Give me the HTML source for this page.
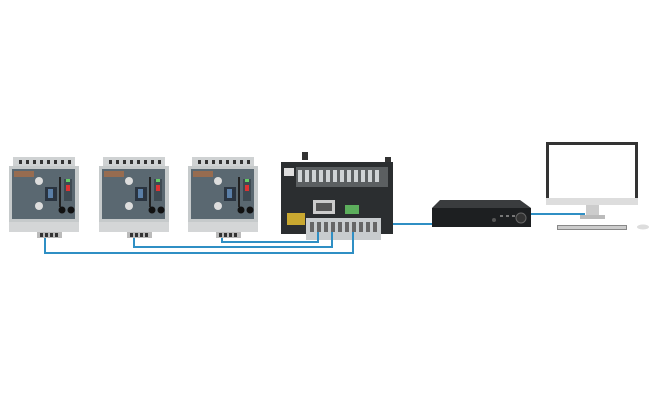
<!DOCTYPE html>
<html><head><meta charset="utf-8"><style>html,body{margin:0;padding:0;background:#fff}svg{display:block}</style></head><body>
<svg width="657" height="400" viewBox="0 0 657 400" xmlns="http://www.w3.org/2000/svg">
<rect width="657" height="400" fill="#fff"/>
<defs>
<g id="relay">
  <rect x="4" y="0" width="62" height="9" fill="#cfd2d3"/>
  <g fill="#333"><rect x="10" y="3" width="3" height="4"/><rect x="17" y="3" width="3" height="4"/><rect x="24" y="3" width="3" height="4"/><rect x="31" y="3" width="3" height="4"/><rect x="38" y="3" width="3" height="4"/><rect x="45" y="3" width="3" height="4"/><rect x="52" y="3" width="3" height="4"/><rect x="59" y="3" width="3" height="4"/></g>
  <rect x="0" y="9" width="70" height="56" fill="#c6cacb"/>
  <rect x="3" y="12" width="63" height="50" fill="#5a6871"/>
  <rect x="5" y="14" width="20" height="6" fill="#c0703a" opacity=".6"/>
  <circle cx="30" cy="24" r="4" fill="#ddd"/><circle cx="30" cy="49" r="4" fill="#ddd"/>
  <rect x="36" y="30" width="12" height="14" fill="#2a3440"/><rect x="39" y="32" width="5" height="9" fill="#5a7fa8"/>
  <rect x="50" y="20" width="2" height="30" fill="#222"/>
  <rect x="55" y="22" width="8" height="22" fill="#3e4a52"/><rect x="57" y="28" width="4" height="6" fill="#d33"/><rect x="57" y="22" width="4" height="3" fill="#6c6"/>
  <circle cx="53" cy="53" r="3.5" fill="#111"/><circle cx="62" cy="53" r="3.5" fill="#111"/>
  <rect x="0" y="65" width="70" height="10" fill="#d4d6d7"/>
  <rect x="28" y="75" width="25" height="6" fill="#bbb"/>
  <g fill="#333"><rect x="31" y="76" width="3" height="4"/><rect x="36" y="76" width="3" height="4"/><rect x="41" y="76" width="3" height="4"/><rect x="46" y="76" width="3" height="4"/></g>
</g>
</defs>
<use href="#relay" x="9" y="157"/>
<use href="#relay" x="99" y="157"/>
<use href="#relay" x="188" y="157"/>
<!-- PLC -->
<rect x="302" y="152" width="6" height="8" fill="#333"/><rect x="385" y="157" width="6" height="8" fill="#333"/>
<rect x="281" y="162" width="112" height="72" fill="#2b2e30"/>
<rect x="296" y="167" width="92" height="20" fill="#5b5f61"/>
<g fill="#cfd3d5"><rect x="298" y="170" width="4" height="12"/><rect x="305" y="170" width="4" height="12"/><rect x="312" y="170" width="4" height="12"/><rect x="319" y="170" width="4" height="12"/><rect x="326" y="170" width="4" height="12"/><rect x="333" y="170" width="4" height="12"/><rect x="340" y="170" width="4" height="12"/><rect x="347" y="170" width="4" height="12"/><rect x="354" y="170" width="4" height="12"/><rect x="361" y="170" width="4" height="12"/><rect x="368" y="170" width="4" height="12"/><rect x="375" y="170" width="4" height="12"/></g>
<rect x="284" y="168" width="10" height="8" fill="#ddd"/>
<rect x="313" y="200" width="22" height="14" fill="#ccc"/><rect x="316" y="203" width="16" height="8" fill="#555"/>
<rect x="345" y="205" width="14" height="9" fill="#5cae5c"/>
<rect x="287" y="213" width="18" height="12" fill="#c9a830"/>
<rect x="306" y="218" width="75" height="22" fill="#c8ccce"/>
<g fill="#666"><rect x="310" y="222" width="4" height="10"/><rect x="317" y="222" width="4" height="10"/><rect x="324" y="222" width="4" height="10"/><rect x="331" y="222" width="4" height="10"/><rect x="338" y="222" width="4" height="10"/><rect x="345" y="222" width="4" height="10"/><rect x="352" y="222" width="4" height="10"/><rect x="359" y="222" width="4" height="10"/><rect x="366" y="222" width="4" height="10"/><rect x="373" y="222" width="4" height="10"/></g>
<!-- wires -->
<g fill="none" stroke="#2f8fc4" stroke-width="2">
<polyline points="45,238 45,253 353,253 353,232"/>
<polyline points="134,238 134,247 332,247 332,232"/>
<polyline points="222,238 222,242 318,242 318,232"/>
<line x1="393" y1="224" x2="433" y2="224"/>
<line x1="528" y1="214" x2="585" y2="214"/>
</g>
<!-- DVR -->
<polygon points="440,200 520,200 531,208 432,208" fill="#3a3c3e"/>
<rect x="432" y="208" width="99" height="19" fill="#1d1f21"/>
<circle cx="494" cy="220" r="2" fill="#555"/>
<g fill="#777"><rect x="500" y="215" width="3" height="2"/><rect x="506" y="215" width="3" height="2"/><rect x="512" y="215" width="3" height="2"/></g>
<circle cx="521" cy="218" r="5" fill="#333" stroke="#666"/>
<!-- monitor -->
<rect x="546" y="142" width="92" height="62" fill="#333"/>
<rect x="549" y="145" width="86" height="53" fill="#fff"/>
<rect x="546" y="198" width="92" height="7" fill="#ddd"/>
<rect x="586" y="205" width="13" height="11" fill="#ccc"/>
<rect x="580" y="215" width="25" height="4" fill="#bbb"/>
<rect x="557" y="225" width="70" height="5" fill="#888"/>
<rect x="558" y="226" width="68" height="3" fill="#ccc"/>
<ellipse cx="643" cy="227" rx="6" ry="2.5" fill="#ddd"/>
</svg>
</body></html>
